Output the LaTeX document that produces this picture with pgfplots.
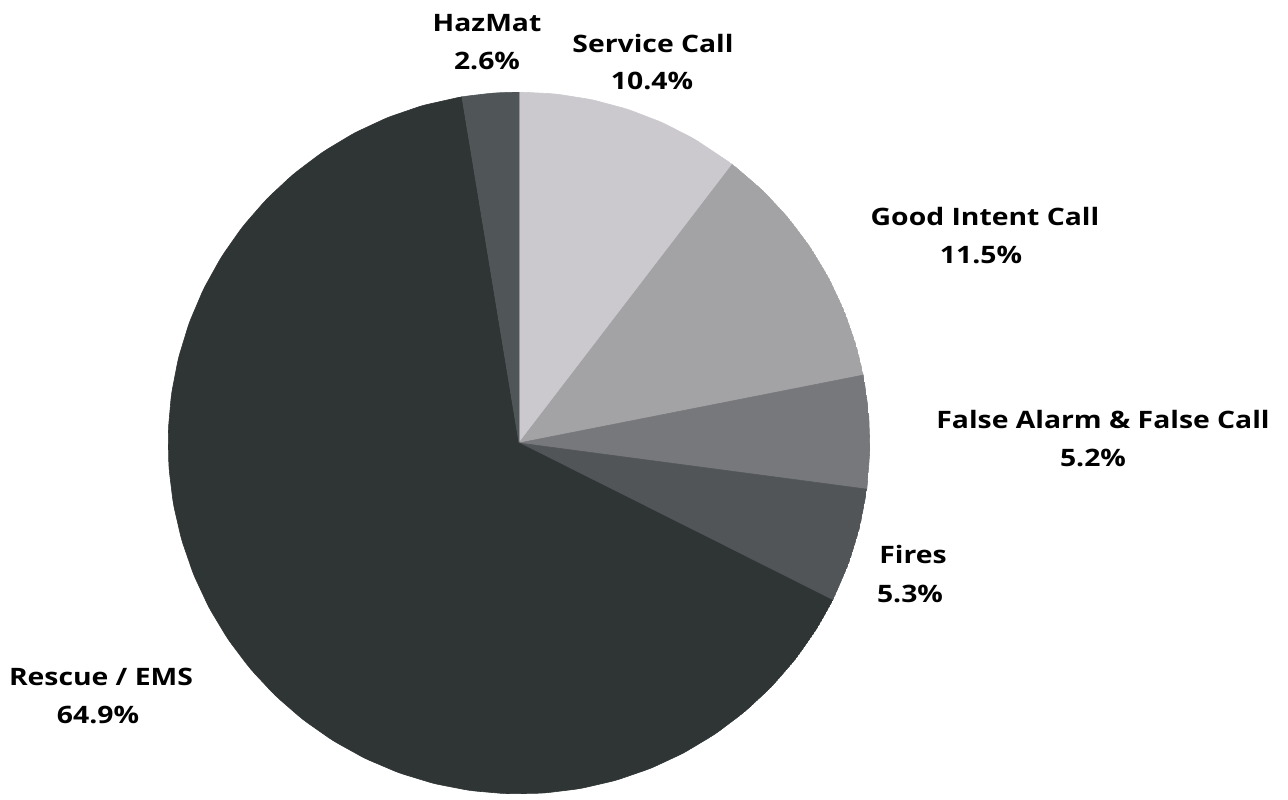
\documentclass[border=0pt]{standalone}
\usepackage{fontspec}
\setmainfont{Open Sans}[FakeStretch=1.18]
\usepackage{pgfplots}
\pgfplotsset{compat=1.18}
\usepgfplotslibrary{polar}

\definecolor{cService}{HTML}{CBC9CD}
\definecolor{cGood}{HTML}{A3A3A6}
\definecolor{cFalse}{HTML}{77787B}
\definecolor{cFires}{HTML}{515558}
\definecolor{cRescue}{HTML}{2F3435}
\definecolor{cHaz}{HTML}{505558}

\begin{document}
\begin{tikzpicture}
\useasboundingbox (0,0) rectangle (644pt,399.5pt);
% slices run clockwise from 12 o'clock; angles in degrees, radius 1
\begin{polaraxis}[at={(259.5pt,178pt)},anchor=center,
    scale only axis,width=351pt,height=351pt,
    ymin=0,ymax=1,xtick=\empty,ytick=\empty,
    axis line style={draw=none}]
  \addplot[fill=cService,draw=cService,line width=0.3pt,mark=none] coordinates {
    (0,0)(90,1)(84,1)(78,1)(72,1)(66,1)(60,1)(52.56,1)} --cycle;
  \addplot[fill=cGood,draw=cGood,line width=0.3pt,mark=none] coordinates {
    (0,0)(52.56,1)(46,1)(40,1)(34,1)(28,1)(22,1)(16,1)(11.16,1)} --cycle;
  \addplot[fill=cFalse,draw=cFalse,line width=0.3pt,mark=none] coordinates {
    (0,0)(11.16,1)(5,1)(-1,1)(-7.56,1)} --cycle;
  \addplot[fill=cFires,draw=cFires,line width=0.3pt,mark=none] coordinates {
    (0,0)(-7.56,1)(-14,1)(-20,1)(-26.64,1)} --cycle;
  \addplot[fill=cRescue,draw=cRescue,line width=0.3pt,mark=none] coordinates {
    (0,0)(-26.64,1)(-32,1)(-38,1)(-44,1)(-50,1)(-56,1)(-62,1)(-68,1)(-74,1)
    (-80,1)(-86,1)(-92,1)(-98,1)(-104,1)(-110,1)(-116,1)(-122,1)(-128,1)
    (-134,1)(-140,1)(-146,1)(-152,1)(-158,1)(-164,1)(-170,1)(-176,1)(-182,1)
    (-188,1)(-194,1)(-200,1)(-206,1)(-212,1)(-218,1)(-224,1)(-230,1)(-236,1)
    (-242,1)(-248,1)(-254,1)(-260.64,1)} --cycle;
  \addplot[fill=cHaz,draw=cHaz,line width=0.3pt,mark=none] coordinates {
    (0,0)(99.36,1)(94,1)(90,1)} --cycle;
\end{polaraxis}
\begin{scope}[every node/.style={font=\fontsize{12}{14}\selectfont\bfseries,anchor=base,inner sep=0pt}]
  \node at (243.5pt,383.5pt) {HazMat};
  \node at (243.5pt,364.5pt) {2.6\%};
  \node at (326.5pt,373pt) {Service Call};
  \node at (326pt,354.5pt) {10.4\%};
  \node at (492.5pt,287pt) {Good Intent Call};
  \node at (490.5pt,267.5pt) {11.5\%};
  \node at (551.5pt,185.5pt) {False Alarm \& False Call};
  \node at (546.5pt,166.5pt) {5.2\%};
  \node at (456.5pt,118pt) {Fires};
  \node at (455pt,98.5pt) {5.3\%};
  \node at (50.5pt,57pt) {Rescue / EMS};
  \node at (49pt,38pt) {64.9\%};
\end{scope}
\end{tikzpicture}
\end{document}
